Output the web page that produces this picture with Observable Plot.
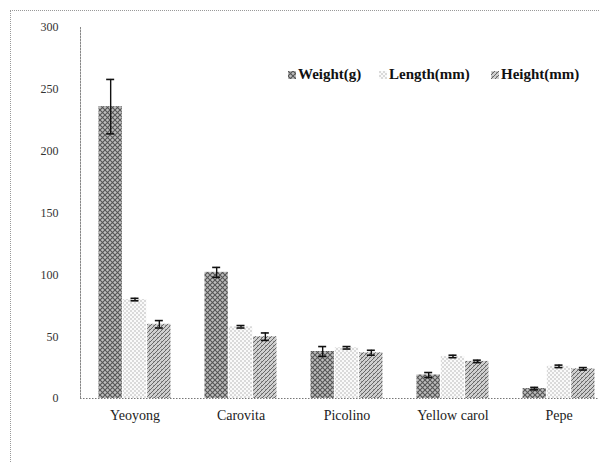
<!DOCTYPE html>
<html>
<head>
<meta charset="utf-8">
<script src="https://cdn.jsdelivr.net/npm/d3@7"></script>
<script src="https://cdn.jsdelivr.net/npm/@observablehq/plot@0.6"></script>
<style>
  html, body { margin: 0; padding: 0; background: #fff; overflow: hidden; }
  body { position: relative; width: 599px; height: 462px; font-family: "Liberation Serif", serif; }
  #border { position: absolute; left: 10px; top: 10px; width: 589px; height: 452px; box-sizing: border-box; border-top: 1px dotted #999; border-left: 1px dotted #999; }
  #chart { position: absolute; left: 0; top: 0; }
  #chart svg { font-family: "Liberation Serif", serif !important; }
  #legend { position: absolute; left: 0; top: 0; width: 599px; height: 100px; pointer-events: none; }
  .item { position: absolute; top: 66px; font-weight: bold; font-size: 15px; color: #111; white-space: nowrap; display: flex; align-items: center; gap: 2px; }
  .item svg { display: block; }
</style>
</head>
<body>
<svg width="0" height="0" style="position:absolute">
  <defs>
    <pattern id="pWeight" width="5" height="5" patternUnits="userSpaceOnUse">
      <rect width="5" height="5" fill="#bdbdbd"/>
      <path d="M0,0 L5,5 M5,0 L0,5" stroke="#555" stroke-width="1.1"/>
    </pattern>
    <pattern id="pLength" width="4" height="4" patternUnits="userSpaceOnUse">
      <rect width="4" height="4" fill="#fafafa"/>
      <path d="M1,0 L1,2 M3,2 L3,4" stroke="#bbb" stroke-width="1"/>
    </pattern>
    <pattern id="pHeight" width="4" height="4" patternUnits="userSpaceOnUse">
      <rect width="4" height="4" fill="#cfcfcf"/>
      <path d="M0,4 L4,0 M-1,1 L1,-1 M3,5 L5,3" stroke="#666" stroke-width="1"/>
      <rect x="1" y="1" width="1" height="1" fill="#999"/>
    </pattern>
  </defs>
</svg>
<div id="border"></div>
<div id="chart"></div>
<div id="legend"></div>
<script>
const categories = ["Yeoyong", "Carovita", "Picolino", "Yellow carol", "Pepe"];
const series = ["Weight(g)", "Length(mm)", "Height(mm)"];
const weight = [236, 102, 38, 19, 8];
const weightErr = [22, 4, 4, 2, 1];
const lengthV = [80, 58, 41, 34, 26];
const lengthErr = [1, 1, 1, 1, 1];
const heightV = [60, 50, 37, 30, 24];
const heightErr = [3, 3, 2, 1, 1];
const yTicks = [0, 50, 100, 150, 200, 250, 300];

const patterns = {"Weight(g)": "url(#pWeight)", "Length(mm)": "url(#pLength)", "Height(mm)": "url(#pHeight)"};
const valuesBySeries = {"Weight(g)": [weight, weightErr], "Length(mm)": [lengthV, lengthErr], "Height(mm)": [heightV, heightErr]};

const rows = [];
for (const s of series) {
  const [vals, errs] = valuesBySeries[s];
  categories.forEach((c, i) => rows.push({cat: c, series: s, value: vals[i], lo: vals[i] - errs[i], hi: vals[i] + errs[i]}));
}

const font = "Liberation Serif, serif";
const bw = 73;          // band width in px (matches x scale padding below)
const w = bw / 3;       // width of one bar
const capHalf = 4;

const marks = [];
series.forEach((s, k) => {
  const d = rows.filter(r => r.series === s);
  marks.push(Plot.barY(d, {
    x: "cat", y: "value", fill: patterns[s],
    insetLeft: k * w + 0.5, insetRight: (2 - k) * w + 0.5
  }));
  const dx = (k - 1) * w;
  marks.push(Plot.ruleX(d, {x: "cat", y1: "lo", y2: "hi", dx, stroke: "#111", strokeWidth: 1.4}));
  marks.push(Plot.tickY(d, {x: "cat", y: "lo", dx, stroke: "#111", strokeWidth: 1.6, insetLeft: bw / 2 - capHalf, insetRight: bw / 2 - capHalf}));
  marks.push(Plot.tickY(d, {x: "cat", y: "hi", dx, stroke: "#111", strokeWidth: 1.6, insetLeft: bw / 2 - capHalf, insetRight: bw / 2 - capHalf}));
});
marks.push(Plot.ruleY([0], {stroke: "#777", strokeDasharray: "1.5,1.5", strokeWidth: 1}));
marks.push(Plot.frame({anchor: "left", stroke: "#888", strokeDasharray: "1.5,1.5"}));
marks.push(Plot.axisY(yTicks, {tickSize: 0, tickPadding: 22, fontSize: 12, fill: "#333", fontFamily: font}));
marks.push(Plot.axisX({tickSize: 0, tickPadding: 12, fontSize: 14, fill: "#222", fontFamily: font}));

const chart = Plot.plot({
  width: 599,
  height: 462,
  marginTop: 27,
  marginBottom: 64,
  marginLeft: 80,
  marginRight: 0,
  style: {fontFamily: font, background: "transparent"},
  x: {domain: categories, paddingInner: 0.315, paddingOuter: 0.094, align: 0.82, label: null},
  y: {domain: [0, 300], label: null},
  marks
});
document.getElementById("chart").appendChild(chart);

// Legend
const legendPos = {"Weight(g)": 288, "Length(mm)": 379, "Height(mm)": 491};
const legend = document.getElementById("legend");
for (const s of series) {
  const div = document.createElement("div");
  div.className = "item";
  div.style.left = legendPos[s] + "px";
  div.innerHTML = `<svg width="8" height="8"><rect width="8" height="8" fill="${patterns[s]}"/></svg><span>${s}</span>`;
  legend.appendChild(div);
}
</script>
</body>
</html>
